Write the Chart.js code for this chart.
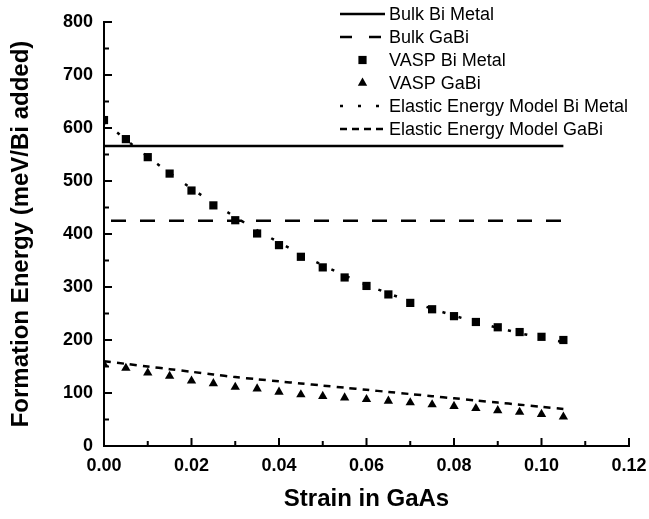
<!DOCTYPE html>
<html>
<head>
<meta charset="utf-8">
<script src="https://cdn.jsdelivr.net/npm/chart.js@4.4.0/dist/chart.umd.min.js"></script>
<style>
html, body { margin: 0; padding: 0; background: #fff; }
#wrap { width: 649px; height: 519px; }
</style>
</head>
<body>
<div id="wrap"><canvas id="grafico" width="649" height="519"></canvas></div>
<script>
// strain values (x) shared by the VASP points and the model curves
const strain = [0, 0.005, 0.01, 0.015, 0.02, 0.025, 0.03, 0.035, 0.04, 0.045, 0.05,
                0.055, 0.06, 0.065, 0.07, 0.075, 0.08, 0.085, 0.09, 0.095, 0.1, 0.105];

const vaspBiMetal = [615, 579, 545, 514, 482, 454, 426, 401, 379, 357, 337,
                     318, 302, 286, 270, 258, 245, 234, 224, 215, 206, 200];
const vaspGaBi = [154, 147, 138, 132, 123, 118, 111, 108, 102, 97, 94,
                  91, 88, 85, 82, 78, 75, 71, 67, 64, 60, 55];

const modeloBiMetal = [612, 578, 546, 515, 486, 458, 432, 407, 384, 362, 341,
                       322, 304, 288, 273, 259, 246, 234, 223, 213, 204, 196];
const modeloGaBi = [160, 155, 150, 145, 140, 135, 130, 126, 122, 118, 114,
                    110, 106, 102, 98, 94, 90, 86, 82, 78, 74, 70];

const bulkStrain = [0, 0.105];
const bulkBiMetal = [566, 566];
const bulkGaBi = [425, 425];

const xTicks = [0, 0.02, 0.04, 0.06, 0.08, 0.10, 0.12];
const yTicks = [0, 100, 200, 300, 400, 500, 600, 700, 800];

const fonte = 'Liberation Sans, Arial, Helvetica, sans-serif';

function pontos(xs, ys) {
    return xs.map((x, i) => ({ x: x, y: ys[i] }));
}

// ticks pointing into the plot, with minor ticks between the labels
const ticksInternos = {
    id: 'ticksInternos',
    afterDraw(chart) {
        var ctx = chart.ctx;
        var area = chart.chartArea;
        var sx = chart.scales.x, sy = chart.scales.y;
        ctx.save();
        ctx.strokeStyle = '#000';
        ctx.lineWidth = 2;
        ctx.beginPath();
        for (let i = 0; i <= 16; i++) {
            var py = sy.getPixelForValue(i * 50);
            var len = i % 2 === 0 ? 8 : 5;
            ctx.moveTo(area.left, py);
            ctx.lineTo(area.left + len, py);
        }
        for (let i = 0; i <= 12; i++) {
            var px = sx.getPixelForValue(i * 0.01);
            var len = i % 2 === 0 ? 8 : 5;
            ctx.moveTo(px, area.bottom);
            ctx.lineTo(px, area.bottom - len);
        }
        ctx.stroke();
        ctx.restore();
    }
};

// legend drawn in the upper right, inside the plot
const legendaInterna = {
    id: 'legendaInterna',
    afterDraw(chart) {
        var ctx = chart.ctx;
        var x0 = 340, x1 = 385, xt = 389, y0 = 14, passo = 23;
        ctx.save();
        ctx.font = '18px ' + fonte;
        ctx.textBaseline = 'middle';
        chart.data.datasets.forEach((ds, i) => {
            var y = y0 + i * passo;
            if (ds.showLine === false) {
                ctx.fillStyle = '#000';
                ctx.strokeStyle = '#000';
                Chart.helpers.drawPoint(ctx, {
                    pointStyle: ds.pointStyle,
                    radius: ds.pointRadius,
                    borderWidth: 0
                }, (x0 + x1) / 2, y);
            } else {
                ctx.strokeStyle = '#000';
                ctx.lineWidth = ds.borderWidth;
                ctx.setLineDash(ds.legendDash || ds.borderDash || []);
                ctx.beginPath();
                ctx.moveTo(x0, y);
                ctx.lineTo(x1, y);
                ctx.stroke();
                ctx.setLineDash([]);
            }
            ctx.fillStyle = '#000';
            ctx.fillText(ds.label, xt, y + 1);
        });
        ctx.restore();
    }
};

var canvas = document.getElementById('grafico');
var ctx = canvas.getContext('2d');
window.grafico = new Chart(ctx, {
    type: 'scatter',
    data: {
        datasets: [{
            label: 'Bulk Bi Metal',
            data: pontos(bulkStrain, bulkBiMetal),
            showLine: true,
            borderColor: '#000',
            borderWidth: 2.5,
            pointRadius: 0
        }, {
            label: 'Bulk GaBi',
            data: pontos(bulkStrain, bulkGaBi),
            showLine: true,
            borderColor: '#000',
            borderWidth: 2.5,
            borderDash: [15, 14],
            borderDashOffset: 22,
            legendDash: [12, 17],
            pointRadius: 0
        }, {
            label: 'VASP Bi Metal',
            data: pontos(strain, vaspBiMetal),
            showLine: false,
            pointStyle: 'rect',
            pointRadius: 5.8,
            backgroundColor: '#000',
            borderColor: '#000',
            borderWidth: 0
        }, {
            label: 'VASP GaBi',
            data: pontos(strain, vaspGaBi),
            showLine: false,
            pointStyle: 'triangle',
            pointRadius: 5.4,
            backgroundColor: '#000',
            borderColor: '#000',
            borderWidth: 0
        }, {
            label: 'Elastic Energy Model Bi Metal',
            data: pontos(strain, modeloBiMetal),
            showLine: true,
            borderColor: '#000',
            borderWidth: 2.5,
            borderDash: [3, 14],
            legendDash: [3, 15],
            pointRadius: 0,
            tension: 0.3
        }, {
            label: 'Elastic Energy Model GaBi',
            data: pontos(strain, modeloGaBi),
            showLine: true,
            borderColor: '#000',
            borderWidth: 2.5,
            borderDash: [7, 6],
            legendDash: [7, 5],
            pointRadius: 0,
            tension: 0.3
        }]
    },
    options: {
        responsive: false,
        devicePixelRatio: 1,
        animation: false,
        layout: {
            padding: { left: 0, right: 20, top: 22, bottom: 0 }
        },
        plugins: {
            legend: { display: false },
            tooltip: { enabled: false }
        },
        scales: {
            x: {
                type: 'linear',
                min: 0,
                max: 0.12,
                afterFit: (s) => { s.height = 73; s.paddingLeft = 0; s.paddingRight = 0; },
                afterBuildTicks: (s) => { s.ticks = xTicks.map((v) => ({ value: v })); },
                grid: { display: false, drawTicks: false },
                border: { display: true, color: '#000', width: 2 },
                ticks: {
                    color: '#000',
                    padding: 9,
                    maxRotation: 0,
                    font: { family: fonte, size: 18, weight: 'bold' },
                    callback: (v) => Number(v).toFixed(2)
                },
                title: {
                    display: true,
                    text: 'Strain in GaAs',
                    color: '#000',
                    font: { family: fonte, size: 24, weight: 'bold' },
                    padding: { top: 4, bottom: 5 }
                }
            },
            y: {
                type: 'linear',
                min: 0,
                max: 800,
                afterFit: (s) => { s.width = 104; s.paddingTop = 0; s.paddingBottom = 0; },
                afterBuildTicks: (s) => { s.ticks = yTicks.map((v) => ({ value: v })); },
                grid: { display: false, drawTicks: false },
                border: { display: true, color: '#000', width: 2 },
                ticks: {
                    color: '#000',
                    padding: 11,
                    font: { family: fonte, size: 18, weight: 'bold' }
                },
                title: {
                    display: true,
                    text: 'Formation Energy (meV/Bi added)',
                    color: '#000',
                    font: { family: fonte, size: 24, weight: 'bold' },
                    padding: { top: 7, bottom: 0 }
                }
            }
        }
    },
    plugins: [ticksInternos, legendaInterna]
});
</script>
</body>
</html>
